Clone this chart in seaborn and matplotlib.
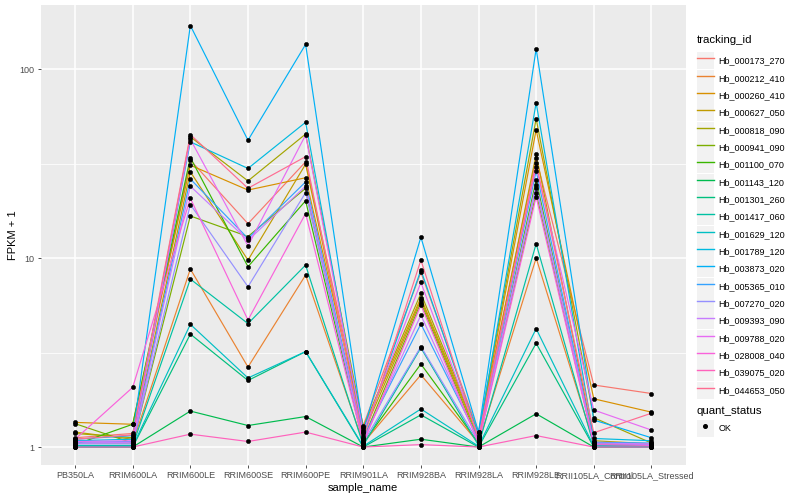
import pandas as pd
import matplotlib
matplotlib.use('Agg')
import matplotlib.pyplot as plt
import seaborn as sns
from matplotlib.lines import Line2D
from matplotlib.patches import Rectangle
from matplotlib.legend_handler import HandlerLine2D
from matplotlib.ticker import FixedLocator, NullFormatter

# sample order along the x axis
samples = ['PB350LA', 'RRIM600LA', 'RRIM600LE', 'RRIM600SE', 'RRIM600PE', 'RRIM901LA',
           'RRIM928BA', 'RRIM928LA', 'RRIM928LE', 'RRII105LA_Control', 'RRII105LA_Stressed']

tracking_ids = ['Hb_000173_270', 'Hb_000212_410', 'Hb_000260_410', 'Hb_000627_050', 'Hb_000818_090',
                'Hb_000941_090', 'Hb_001100_070', 'Hb_001143_120', 'Hb_001301_260', 'Hb_001417_060',
                'Hb_001629_120', 'Hb_001789_120', 'Hb_003873_020', 'Hb_005365_010', 'Hb_007270_020',
                'Hb_009393_090', 'Hb_009788_020', 'Hb_028008_040', 'Hb_039075_020', 'Hb_044653_050']

# FPKM + 1 per sample, in tracking_ids order
pb350la = [1.12, 1.05, 1.35, 1.2, 1.18, 1.33, 1.03, 1.0, 1.0, 1.02, 1.01, 1.08, 1.1, 1.06, 1.04, 1.05, 1.07, 1.1, 1.0, 1.1]
rrim600la = [1.18, 1.05, 1.32, 1.1, 1.12, 1.05, 1.32, 1.0, 1.0, 1.02, 1.01, 1.1, 1.15, 1.07, 1.04, 1.06, 1.08, 2.07, 1.0, 1.16]
rrim600le = [33, 8.75, 31, 28.6, 43.8, 16.7, 34, 1.55, 3.96, 7.74, 4.46, 41.2, 170, 26.2, 19.2, 24, 42.5, 20.7, 1.17, 45]
rrim600se = [15.2, 2.65, 22.9, 9.75, 25.6, 13, 9.0, 1.3, 2.25, 4.5, 2.32, 29.8, 42, 12.7, 7.05, 12.4, 11.6, 4.7, 1.07, 23.4]
rrim600pe = [32.3, 8.13, 26.6, 31.4, 45.3, 23.4, 20.1, 1.45, 3.2, 9.18, 3.2, 52.3, 135, 25.3, 22.2, 24, 44.8, 17.2, 1.2, 34.4]
rrim901la = [1.3, 1.05, 1.25, 1.18, 1.28, 1.1, 1.05, 1.0, 1.0, 1.02, 1.01, 1.15, 1.22, 1.12, 1.06, 1.08, 1.2, 1.05, 1.0, 1.1]
rrim928ba = [8.4, 2.41, 6.17, 6.0, 6.5, 5.8, 2.75, 1.1, 1.48, 3.35, 1.59, 8.64, 12.9, 4.48, 3.4, 4.99, 7.43, 5.64, 1.03, 9.76]
rrim928la = [1.2, 1.05, 1.15, 1.12, 1.18, 1.08, 1.05, 1.0, 1.0, 1.02, 1.01, 1.15, 1.2, 1.1, 1.06, 1.07, 1.13, 1.05, 1.0, 1.1]
rrim928le = [33.7, 10.0, 47.7, 35.4, 54.6, 22, 25.9, 1.5, 3.54, 11.9, 4.23, 66.3, 128, 28.9, 23.6, 24.5, 30.5, 21.1, 1.15, 31.9]
rrii105la_control = [2.13, 1.05, 1.8, 1.08, 1.43, 1.05, 1.03, 1.0, 1.0, 1.02, 1.01, 1.11, 1.39, 1.06, 1.04, 1.05, 1.57, 1.03, 1.0, 1.19]
rrii105la_stressed = [1.92, 1.0, 1.53, 1.04, 1.05, 1.03, 1.02, 1.0, 1.0, 1.01, 1.0, 1.08, 1.12, 1.05, 1.03, 1.04, 1.23, 1.02, 1.0, 1.51]

# ggplot2 default hue palette for 20 levels
hue_colors = ['#F8766D', '#EA8331', '#D89000', '#C09B00', '#A3A500', '#7CAE00', '#39B600', '#00BB4E',
              '#00BF7D', '#00C1A3', '#00BFC4', '#00BAE0', '#00B0F6', '#35A2FF', '#9590FF', '#C77CFF',
              '#E76BF3', '#FA62DB', '#FF62BC', '#FF6C91']

columns = [pb350la, rrim600la, rrim600le, rrim600se, rrim600pe, rrim901la,
           rrim928ba, rrim928la, rrim928le, rrii105la_control, rrii105la_stressed]
wide = pd.DataFrame(dict(zip(samples, columns)), index=tracking_ids)
wide.index.name = 'tracking_id'
df = wide.reset_index().melt(id_vars='tracking_id', var_name='sample_name', value_name='fpkm')
df['sample_name'] = pd.Categorical(df['sample_name'], categories=samples, ordered=True)
df['x'] = df['sample_name'].cat.codes
df['quant_status'] = 'OK'

plt.rcParams['font.family'] = ['Liberation Sans', 'DejaVu Sans']

fig = plt.figure(figsize=(8, 5), dpi=100)
# panel spans roughly x 40..686 px, y 5..465 px
ax = fig.add_axes([40.5 / 800, 35 / 500, (686 - 40.5) / 800, 460 / 500])
ax.set_facecolor('#EBEBEB')

palette = dict(zip(tracking_ids, hue_colors))
sns.lineplot(data=df, x='x', y='fpkm', hue='tracking_id', palette=palette, estimator=None,
             sort=False, linewidth=0.85, legend=False, ax=ax, zorder=3)
sns.scatterplot(data=df, x='x', y='fpkm', color='black', s=9, marker='o', edgecolor='black',
                linewidth=0.4, legend=False, ax=ax, zorder=4)

ax.set_yscale('log')
ax.set_ylim(10 ** -0.095, 10 ** 2.339)
ax.set_xlim(-0.6, len(samples) - 0.4)
ax.yaxis.set_major_locator(FixedLocator([1, 10, 100]))
ax.set_yticklabels(['1', '10', '100'])
ax.yaxis.set_minor_locator(FixedLocator([10 ** 0.5, 10 ** 1.5]))
ax.yaxis.set_minor_formatter(NullFormatter())
ax.set_xticks(range(len(samples)))
ax.set_xticklabels(samples)

ax.grid(which='major', color='white', linewidth=1.1, zorder=0)
ax.grid(which='minor', axis='y', color='white', linewidth=0.55, zorder=0)
ax.set_axisbelow(True)
for s in ax.spines.values():
    s.set_visible(False)
ax.tick_params(axis='both', which='major', length=2.5, width=0.6, color='#333333',
               labelcolor='#4D4D4D', labelsize=6.5, pad=2)
ax.tick_params(axis='y', which='minor', length=0)
ax.set_xlabel('sample_name', fontsize=8, color='black', labelpad=2)
ax.set_ylabel('FPKM + 1', fontsize=8, color='black', labelpad=1)


class KeyHandler(HandlerLine2D):
    def create_artists(self, legend, orig_handle, xdescent, ydescent, width, height, fontsize, trans):
        bg = Rectangle((-xdescent, -ydescent - 0.5), width, height + 1.0,
                       facecolor='#F2F2F2', edgecolor='none', transform=trans)
        arts = super().create_artists(legend, orig_handle, xdescent, ydescent, width, height, fontsize, trans)
        return [bg] + arts


line_handles = [Line2D([], [], color=c, linewidth=1.0) for c in hue_colors]
leg1 = fig.legend(line_handles, tracking_ids, title='tracking_id', loc='upper left',
                  bbox_to_anchor=(694 / 800, 1 - 32 / 500), frameon=False, fontsize=6.5,
                  title_fontsize=8.2, handlelength=1.88, handleheight=2.3, labelspacing=0.18,
                  handletextpad=0.55, borderaxespad=0, borderpad=0.3, alignment='left',
                  handler_map={Line2D: KeyHandler()})
leg1._legend_box.sep = 6

pt_handle = [Line2D([], [], color='black', marker='o', linestyle='none', markersize=2.6)]
leg2 = fig.legend(pt_handle, ['OK'], title='quant_status', loc='upper left',
                  bbox_to_anchor=(694 / 800, 1 - 403 / 500), frameon=False, fontsize=6.5,
                  title_fontsize=8.2, handlelength=1.88, handleheight=2.3, handletextpad=0.55,
                  borderaxespad=0, borderpad=0.3, alignment='left', handler_map={Line2D: KeyHandler()})

fig.savefig('out.png', dpi=100)
plt.close(fig)
